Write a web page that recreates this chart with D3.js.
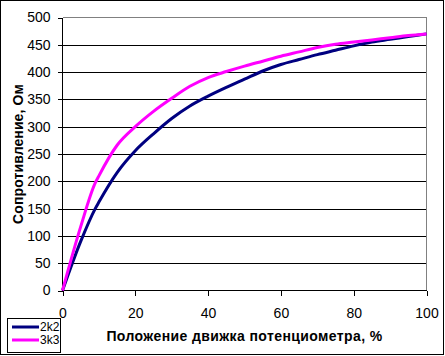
<!DOCTYPE html>
<html><head><meta charset="utf-8">
<script src="https://cdn.jsdelivr.net/npm/d3@7"></script>
<style>
html,body{margin:0;padding:0;background:#fff;}
svg{display:block;}
text{font-family:"Liberation Sans",Arial,sans-serif;fill:#000;}
</style></head>
<body>
<svg id="chart" width="445" height="356"></svg>
<script>
const positions = [0, 5, 9, 10, 15, 20, 25, 30, 35, 40, 45, 50, 55, 60, 65, 70, 75, 80, 85, 90, 95, 100];
const series2k2 = [0, 90, 150, 162, 216, 256, 287, 315, 338, 356, 372, 387, 402, 414, 423, 432, 440, 448, 455, 460, 465, 470];
const series3k3 = [0, 117, 197, 210, 266, 300, 328, 352, 374, 390, 401, 411, 420, 429, 437, 445, 451, 455, 459, 463, 467, 470];
const seriesNames = ["2k2", "3k3"];
const seriesColors = ["#000080", "#FF00FF"];
const xTicks = [0, 20, 40, 60, 80, 100];
const yTicks = [0, 50, 100, 150, 200, 250, 300, 350, 400, 450, 500];
const xTitle = "Положение движка потенциометра, %";
const yTitle = "Сопротивление, Ом";

const svg = d3.select("#chart");
const x = d3.scaleLinear().domain([0, 100]).range([62.5, 426.5]);
const y = d3.scaleLinear().domain([0, 500]).range([290.5, 17.5]);

// outer border
svg.append("rect").attr("x", 0.5).attr("y", 0.5).attr("width", 443).attr("height", 354)
  .attr("fill", "#fff").attr("stroke", "#000").attr("stroke-width", 1);

// gridlines
svg.append("g").selectAll("line").data(yTicks.filter(v => v > 0 && v < 500)).join("line")
  .attr("x1", x(0)).attr("x2", x(100))
  .attr("y1", d => Math.round(y(d)) + 0.5).attr("y2", d => Math.round(y(d)) + 0.5)
  .attr("stroke", "#000").attr("shape-rendering", "crispEdges");

// plot border top/right (gray)
svg.append("path")
  .attr("d", `M${x(0)},${y(500)}H${x(100)}V${y(0)}`)
  .attr("fill", "none").attr("stroke", "#808080").attr("shape-rendering", "crispEdges");

// axes
const yAxis = svg.append("g").attr("transform", `translate(${x(0)},0)`)
  .call(d3.axisLeft(y).tickValues(yTicks).tickSize(5).tickPadding(7).tickFormat(d3.format("d")));
const xAxis = svg.append("g").attr("transform", `translate(0,${y(0)})`)
  .call(d3.axisBottom(x).tickValues(xTicks).tickSize(5).tickPadding(13).tickFormat(d3.format("d")));
[yAxis, xAxis].forEach(g => {
  g.select(".domain").attr("stroke", "#000").attr("shape-rendering", "crispEdges");
  g.selectAll(".tick line").attr("stroke", "#000").attr("shape-rendering", "crispEdges");
  g.selectAll("text").attr("font-size", 14).attr("font-family", "Liberation Sans, Arial, sans-serif").attr("fill", "#000");
});
yAxis.select(".domain").attr("d", `M0,${y(0)}V${y(500)}`);
xAxis.select(".domain").attr("d", `M${x(0)},0H${x(100)}`);

// lines
const allSeries = [series2k2, series3k3];
const line = d3.line().x(d => x(d[0])).y(d => y(d[1])).curve(d3.curveMonotoneX);
allSeries.forEach((vals, i) => {
  svg.append("path")
    .datum(positions.map((p, j) => [p, vals[j]]))
    .attr("d", line)
    .attr("fill", "none")
    .attr("stroke", seriesColors[i])
    .attr("stroke-width", 3)
    .attr("stroke-linejoin", "round");
});

// axis titles
svg.append("text").attr("x", (x(0) + x(100)) / 2).attr("y", 341)
  .attr("text-anchor", "middle").attr("font-size", 14).attr("font-weight", "bold")
  .attr("letter-spacing", 0.4)
  .text(xTitle);
svg.append("text").attr("transform", `translate(23,${(y(0) + y(500)) / 2}) rotate(-90)`)
  .attr("text-anchor", "middle").attr("font-size", 14).attr("font-weight", "bold")
  .attr("letter-spacing", 0.1)
  .text(yTitle);

// legend
const lg = svg.append("g");
lg.append("rect").attr("x", 7.5).attr("y", 318.5).attr("width", 53).attr("height", 34)
  .attr("fill", "#fff").attr("stroke", "#000");
seriesNames.forEach((n, i) => {
  const ly = 327 + i * 13;
  lg.append("line").attr("x1", 12).attr("x2", 39).attr("y1", ly).attr("y2", ly)
    .attr("stroke", seriesColors[i]).attr("stroke-width", 3);
  lg.append("text").attr("x", 40).attr("y", ly + 4).attr("font-size", 12).text(n);
});
</script>
</body></html>
